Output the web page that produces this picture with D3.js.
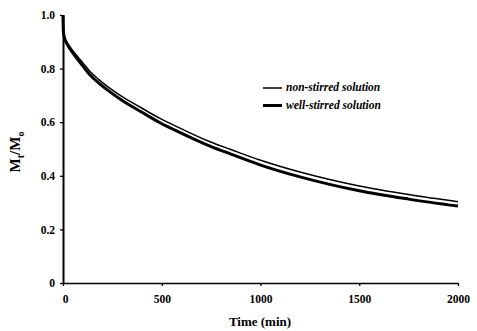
<!DOCTYPE html>
<html><head><meta charset="utf-8">
<script src="https://cdn.jsdelivr.net/npm/d3@7"></script>
<style>body{margin:0;background:#fff}svg{display:block}</style>
</head><body>
<svg id="c" width="477" height="331"></svg>
<script>
const times = [0, 2, 8, 19, 35, 70, 100, 137, 180, 238, 300, 400, 491, 600, 744, 850, 997, 1200, 1350, 1500, 1750, 2000];
const nonStirred = [1.0, 0.94, 0.918, 0.900, 0.882, 0.848, 0.822, 0.789, 0.760, 0.726, 0.695, 0.652, 0.614, 0.575, 0.527, 0.498, 0.459, 0.414, 0.386, 0.362, 0.330, 0.303];
const wellStirred = [1.0, 0.937, 0.913, 0.894, 0.874, 0.838, 0.810, 0.776, 0.747, 0.713, 0.681, 0.637, 0.598, 0.559, 0.511, 0.481, 0.441, 0.396, 0.368, 0.344, 0.313, 0.287];
const xTicks = [0, 500, 1000, 1500, 2000];
const yTicks = [0, 0.2, 0.4, 0.6, 0.8, 1.0];
const yTickLabels = ["0", "0.2", "0.4", "0.6", "0.8", "1.0"];
const legendLabels = ["non-stirred solution", "well-stirred solution"];

const svg = d3.select("#c");
const x = d3.scaleLinear().domain([0, 2000]).range([63, 458]);
const y = d3.scaleLinear().domain([0, 1]).range([283, 15]);
const font = "'Liberation Serif', 'Times New Roman', serif";

// axes
const xAxis = svg.append("g").attr("transform", "translate(0,283)")
  .call(d3.axisBottom(x).tickValues(xTicks).tickSize(3).tickSizeOuter(0).tickFormat(d3.format("d")));
xAxis.select(".domain").attr("stroke", "#000").attr("stroke-width", 1.6);
xAxis.selectAll(".tick line").attr("stroke-width", 1.3);
xAxis.selectAll(".tick text").attr("font-family", font).attr("font-weight", "bold")
  .attr("font-size", 11.5).attr("dy", "1.25em").attr("fill", "#000")
  .attr("dx", d => d === 0 ? 2 : 0);

const yAxis = svg.append("g").attr("transform", "translate(63,0)")
  .call(d3.axisLeft(y).tickValues(yTicks).tickSize(3).tickSizeOuter(0)
    .tickFormat((d, i) => yTickLabels[i]));
yAxis.select(".domain").attr("stroke", "#000").attr("stroke-width", 2);
yAxis.selectAll(".tick line").attr("stroke-width", 1.3);
yAxis.selectAll(".tick text").attr("font-family", font).attr("font-weight", "bold")
  .attr("font-size", 11.5).attr("x", -8).attr("fill", "#000");

// lines
const line = (vals) => d3.line().x((d, i) => x(times[i])).y(d => y(d)).curve(d3.curveMonotoneX)(vals);
svg.append("path").attr("d", line(nonStirred)).attr("fill", "none").attr("stroke", "#000").attr("stroke-width", 1.5);
svg.append("path").attr("d", line(wellStirred)).attr("fill", "none").attr("stroke", "#000").attr("stroke-width", 3);

// legend
const lg = svg.append("g");
[1.5, 3].forEach((w, i) => {
  const yy = 88 + i * 17.5;
  lg.append("line").attr("x1", 263).attr("x2", 282).attr("y1", yy).attr("y2", yy)
    .attr("stroke", "#000").attr("stroke-width", w);
  lg.append("text").attr("x", 286).attr("y", yy).attr("dy", "0.3em")
    .attr("font-family", font).attr("font-weight", "bold").attr("font-style", "italic")
    .attr("font-size", 11.5).text(legendLabels[i]);
});

// axis titles
svg.append("text").attr("x", 260).attr("y", 326).attr("text-anchor", "middle")
  .attr("font-family", font).attr("font-weight", "bold").attr("font-size", 13).text("Time (min)");
const yt = svg.append("text").attr("transform", "translate(20,152) rotate(-90)").attr("text-anchor", "middle")
  .attr("font-family", font).attr("font-weight", "bold").attr("font-size", 15);
yt.append("tspan").text("M");
yt.append("tspan").attr("font-size", 10).attr("dy", 4).text("t");
yt.append("tspan").attr("dy", -4).text("/M");
yt.append("tspan").attr("font-size", 10).attr("dy", 4).text("o");
</script>
</body></html>
